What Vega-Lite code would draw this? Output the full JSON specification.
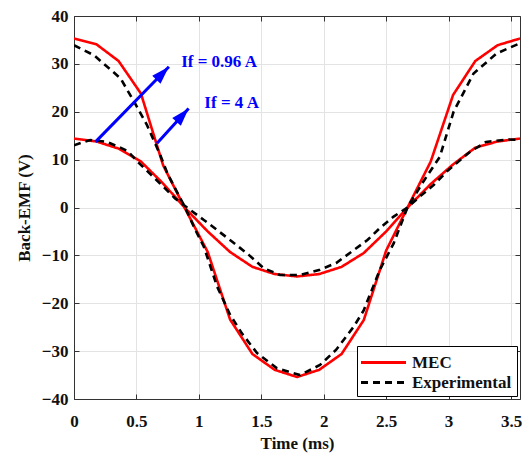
{
  "$schema": "https://vega.github.io/schema/vega-lite/v6.json",
  "width": 446,
  "height": 383,
  "autosize": {"type": "none"},
  "padding": {"left": 74, "top": 16, "right": 10, "bottom": 58},
  "background": "white",
  "config": {
    "font": "Liberation Serif",
    "view": {"stroke": null},
    "axis": {
      "labelFont": "Liberation Serif",
      "labelFontWeight": "bold",
      "labelFontSize": 17,
      "labelColor": "#111",
      "titleFont": "Liberation Serif",
      "titleFontWeight": "bold",
      "titleFontSize": 17,
      "titleColor": "#111",
      "gridColor": "#e3e3e3",
      "gridWidth": 1,
      "domainColor": "#333",
      "domainWidth": 1,
      "tickColor": "#333",
      "tickSize": -5
    },
    "legend": {
      "labelFont": "Liberation Serif",
      "labelFontWeight": "bold",
      "labelFontSize": 17,
      "labelColor": "#111"
    }
  },
  "datasets": {
    "curves": [
      {"t": 0, "v": 35.3, "curve": "MEC_096", "type": "MEC"},
      {"t": 0.179, "v": 34.1, "curve": "MEC_096", "type": "MEC"},
      {"t": 0.357, "v": 30.6, "curve": "MEC_096", "type": "MEC"},
      {"t": 0.536, "v": 23.8, "curve": "MEC_096", "type": "MEC"},
      {"t": 0.714, "v": 8.8, "curve": "MEC_096", "type": "MEC"},
      {"t": 0.893, "v": -0.4, "curve": "MEC_096", "type": "MEC"},
      {"t": 1.071, "v": -9.3, "curve": "MEC_096", "type": "MEC"},
      {"t": 1.25, "v": -23.4, "curve": "MEC_096", "type": "MEC"},
      {"t": 1.429, "v": -30.6, "curve": "MEC_096", "type": "MEC"},
      {"t": 1.607, "v": -33.9, "curve": "MEC_096", "type": "MEC"},
      {"t": 1.786, "v": -35.4, "curve": "MEC_096", "type": "MEC"},
      {"t": 1.964, "v": -33.9, "curve": "MEC_096", "type": "MEC"},
      {"t": 2.143, "v": -30.6, "curve": "MEC_096", "type": "MEC"},
      {"t": 2.321, "v": -23.5, "curve": "MEC_096", "type": "MEC"},
      {"t": 2.5, "v": -9.0, "curve": "MEC_096", "type": "MEC"},
      {"t": 2.679, "v": 0.4, "curve": "MEC_096", "type": "MEC"},
      {"t": 2.857, "v": 9.6, "curve": "MEC_096", "type": "MEC"},
      {"t": 3.036, "v": 23.5, "curve": "MEC_096", "type": "MEC"},
      {"t": 3.214, "v": 30.6, "curve": "MEC_096", "type": "MEC"},
      {"t": 3.393, "v": 33.9, "curve": "MEC_096", "type": "MEC"},
      {"t": 3.572, "v": 35.3, "curve": "MEC_096", "type": "MEC"},

      {"t": 0, "v": 14.4, "curve": "MEC_4", "type": "MEC"},
      {"t": 0.179, "v": 13.8, "curve": "MEC_4", "type": "MEC"},
      {"t": 0.357, "v": 12.3, "curve": "MEC_4", "type": "MEC"},
      {"t": 0.536, "v": 9.6, "curve": "MEC_4", "type": "MEC"},
      {"t": 0.714, "v": 5.0, "curve": "MEC_4", "type": "MEC"},
      {"t": 0.893, "v": -0.2, "curve": "MEC_4", "type": "MEC"},
      {"t": 1.071, "v": -5.0, "curve": "MEC_4", "type": "MEC"},
      {"t": 1.25, "v": -9.3, "curve": "MEC_4", "type": "MEC"},
      {"t": 1.429, "v": -12.4, "curve": "MEC_4", "type": "MEC"},
      {"t": 1.607, "v": -13.9, "curve": "MEC_4", "type": "MEC"},
      {"t": 1.786, "v": -14.4, "curve": "MEC_4", "type": "MEC"},
      {"t": 1.964, "v": -13.9, "curve": "MEC_4", "type": "MEC"},
      {"t": 2.143, "v": -12.4, "curve": "MEC_4", "type": "MEC"},
      {"t": 2.321, "v": -9.5, "curve": "MEC_4", "type": "MEC"},
      {"t": 2.5, "v": -5.0, "curve": "MEC_4", "type": "MEC"},
      {"t": 2.679, "v": 0.2, "curve": "MEC_4", "type": "MEC"},
      {"t": 2.857, "v": 4.9, "curve": "MEC_4", "type": "MEC"},
      {"t": 3.036, "v": 9.0, "curve": "MEC_4", "type": "MEC"},
      {"t": 3.214, "v": 12.5, "curve": "MEC_4", "type": "MEC"},
      {"t": 3.393, "v": 13.8, "curve": "MEC_4", "type": "MEC"},
      {"t": 3.572, "v": 14.4, "curve": "MEC_4", "type": "MEC"},

      {"t": 0, "v": 33.9, "curve": "EXP_096", "type": "Experimental"},
      {"t": 0.16, "v": 31.8, "curve": "EXP_096", "type": "Experimental"},
      {"t": 0.372, "v": 27.0, "curve": "EXP_096", "type": "Experimental"},
      {"t": 0.49, "v": 21.7, "curve": "EXP_096", "type": "Experimental"},
      {"t": 0.585, "v": 17.2, "curve": "EXP_096", "type": "Experimental"},
      {"t": 0.69, "v": 11.0, "curve": "EXP_096", "type": "Experimental"},
      {"t": 0.75, "v": 7.0, "curve": "EXP_096", "type": "Experimental"},
      {"t": 0.89, "v": 0, "curve": "EXP_096", "type": "Experimental"},
      {"t": 0.972, "v": -4.7, "curve": "EXP_096", "type": "Experimental"},
      {"t": 1.04, "v": -8.2, "curve": "EXP_096", "type": "Experimental"},
      {"t": 1.146, "v": -16.5, "curve": "EXP_096", "type": "Experimental"},
      {"t": 1.25, "v": -22.4, "curve": "EXP_096", "type": "Experimental"},
      {"t": 1.345, "v": -26.3, "curve": "EXP_096", "type": "Experimental"},
      {"t": 1.466, "v": -30.4, "curve": "EXP_096", "type": "Experimental"},
      {"t": 1.626, "v": -33.6, "curve": "EXP_096", "type": "Experimental"},
      {"t": 1.81, "v": -35.0, "curve": "EXP_096", "type": "Experimental"},
      {"t": 1.97, "v": -32.9, "curve": "EXP_096", "type": "Experimental"},
      {"t": 2.1, "v": -29.7, "curve": "EXP_096", "type": "Experimental"},
      {"t": 2.24, "v": -24.9, "curve": "EXP_096", "type": "Experimental"},
      {"t": 2.32, "v": -21.5, "curve": "EXP_096", "type": "Experimental"},
      {"t": 2.45, "v": -13.0, "curve": "EXP_096", "type": "Experimental"},
      {"t": 2.56, "v": -7.5, "curve": "EXP_096", "type": "Experimental"},
      {"t": 2.67, "v": 0, "curve": "EXP_096", "type": "Experimental"},
      {"t": 2.8, "v": 5.5, "curve": "EXP_096", "type": "Experimental"},
      {"t": 2.93, "v": 10.6, "curve": "EXP_096", "type": "Experimental"},
      {"t": 3.04, "v": 20.0, "curve": "EXP_096", "type": "Experimental"},
      {"t": 3.2, "v": 28.0, "curve": "EXP_096", "type": "Experimental"},
      {"t": 3.386, "v": 32.2, "curve": "EXP_096", "type": "Experimental"},
      {"t": 3.572, "v": 34.3, "curve": "EXP_096", "type": "Experimental"},

      {"t": 0, "v": 13.0, "curve": "EXP_4", "type": "Experimental"},
      {"t": 0.13, "v": 14.1, "curve": "EXP_4", "type": "Experimental"},
      {"t": 0.265, "v": 13.7, "curve": "EXP_4", "type": "Experimental"},
      {"t": 0.43, "v": 11.8, "curve": "EXP_4", "type": "Experimental"},
      {"t": 0.5, "v": 9.8, "curve": "EXP_4", "type": "Experimental"},
      {"t": 0.69, "v": 5.0, "curve": "EXP_4", "type": "Experimental"},
      {"t": 0.81, "v": 1.9, "curve": "EXP_4", "type": "Experimental"},
      {"t": 0.93, "v": -0.5, "curve": "EXP_4", "type": "Experimental"},
      {"t": 1.04, "v": -2.6, "curve": "EXP_4", "type": "Experimental"},
      {"t": 1.146, "v": -4.7, "curve": "EXP_4", "type": "Experimental"},
      {"t": 1.265, "v": -7.1, "curve": "EXP_4", "type": "Experimental"},
      {"t": 1.4, "v": -9.9, "curve": "EXP_4", "type": "Experimental"},
      {"t": 1.52, "v": -12.7, "curve": "EXP_4", "type": "Experimental"},
      {"t": 1.65, "v": -14.1, "curve": "EXP_4", "type": "Experimental"},
      {"t": 1.81, "v": -14.1, "curve": "EXP_4", "type": "Experimental"},
      {"t": 1.97, "v": -13.0, "curve": "EXP_4", "type": "Experimental"},
      {"t": 2.1, "v": -11.6, "curve": "EXP_4", "type": "Experimental"},
      {"t": 2.24, "v": -8.9, "curve": "EXP_4", "type": "Experimental"},
      {"t": 2.35, "v": -6.8, "curve": "EXP_4", "type": "Experimental"},
      {"t": 2.45, "v": -4.3, "curve": "EXP_4", "type": "Experimental"},
      {"t": 2.56, "v": -1.9, "curve": "EXP_4", "type": "Experimental"},
      {"t": 2.67, "v": 0, "curve": "EXP_4", "type": "Experimental"},
      {"t": 2.77, "v": 2.3, "curve": "EXP_4", "type": "Experimental"},
      {"t": 2.88, "v": 4.7, "curve": "EXP_4", "type": "Experimental"},
      {"t": 2.985, "v": 7.5, "curve": "EXP_4", "type": "Experimental"},
      {"t": 3.17, "v": 11.6, "curve": "EXP_4", "type": "Experimental"},
      {"t": 3.3, "v": 13.7, "curve": "EXP_4", "type": "Experimental"},
      {"t": 3.48, "v": 14.2, "curve": "EXP_4", "type": "Experimental"},
      {"t": 3.572, "v": 14.1, "curve": "EXP_4", "type": "Experimental"}
    ],
    "arrows": [
      {"t": 0.172, "v": 13.7, "arrow": "a1"},
      {"t": 0.76, "v": 29.4, "arrow": "a1"},
      {"t": 0.665, "v": 13.4, "arrow": "a2"},
      {"t": 0.918, "v": 20.7, "arrow": "a2"}
    ],
    "labels": [
      {"t": 0.858, "v": 30.4, "label": "If = 0.96 A"},
      {"t": 1.044, "v": 21.75, "label": "If = 4 A"}
    ]
  },
  "layer": [
    {
      "data": {"name": "curves"},
      "transform": [{"filter": "datum.type === 'MEC'"}],
      "mark": {"type": "line", "strokeWidth": 2.6, "clip": true},
      "encoding": {
        "x": {"field": "t", "type": "quantitative", "title": "Time (ms)",
          "scale": {"domain": [0, 3.572], "nice": false, "zero": false},
          "axis": {"orient": "bottom", "values": [0, 0.5, 1, 1.5, 2, 2.5, 3, 3.5], "format": "~g", "labelPadding": 19, "titlePadding": 6, "labelFlush": false,
            "labelFont": "Liberation Serif", "labelFontWeight": "bold", "labelFontSize": 17, "titleFont": "Liberation Serif", "titleFontWeight": "bold", "titleFontSize": 17}},
        "y": {"field": "v", "type": "quantitative", "title": "Back-EMF (V)",
          "scale": {"domain": [-40, 40], "nice": false},
          "axis": {"orient": "left", "values": [-40, -30, -20, -10, 0, 10, 20, 30, 40], "labelPadding": 11, "titlePadding": 8,
            "labelFont": "Liberation Serif", "labelFontWeight": "bold", "labelFontSize": 17, "titleFont": "Liberation Serif", "titleFontWeight": "bold", "titleFontSize": 17}},
        "detail": {"field": "curve"},
        "color": {"field": "type", "type": "nominal", "title": null,
          "scale": {"domain": ["MEC", "Experimental"], "range": ["#ff0000", "#000000"]},
          "legend": {"orient": "bottom-right", "offset": 3, "fillColor": "white", "strokeColor": "#000", "padding": 5,
            "symbolType": "M-1.25,0L3.25,0", "symbolSize": 400, "symbolStrokeWidth": 3, "rowPadding": -1, "labelOffset": 27,
            "labelFont": "Liberation Serif", "labelFontWeight": "bold", "labelFontSize": 17, "labelColor": "#111"}},
        "strokeDash": {"field": "type", "type": "nominal", "title": null,
          "scale": {"domain": ["MEC", "Experimental"], "range": [[1, 0], [7, 5]]}}
      }
    },
    {
      "data": {"name": "curves"},
      "transform": [{"filter": "datum.type === 'Experimental'"}],
      "mark": {"type": "line", "strokeWidth": 2.6, "clip": true},
      "encoding": {
        "x": {"field": "t", "type": "quantitative", "axis": null},
        "y": {"field": "v", "type": "quantitative", "axis": null},
        "detail": {"field": "curve"},
        "color": {"field": "type", "type": "nominal"},
        "strokeDash": {"field": "type", "type": "nominal"}
      }
    },
    {
      "data": {"name": "arrows"},
      "mark": {"type": "line", "color": "#0000ff", "strokeWidth": 3},
      "encoding": {
        "x": {"field": "t", "type": "quantitative", "axis": {"orient": "top", "values": [0, 0.5, 1, 1.5, 2, 2.5, 3, 3.5], "labels": false, "title": null, "grid": false}},
        "y": {"field": "v", "type": "quantitative", "axis": {"orient": "right", "values": [-40, -30, -20, -10, 0, 10, 20, 30, 40], "labels": false, "title": null, "grid": false}},
        "detail": {"field": "arrow"}
      }
    },
    {
      "data": {"name": "arrows"},
      "transform": [{"filter": "datum.arrow === 'a1' && datum.v > 20"}],
      "mark": {"type": "point", "shape": "M0,0L-0.32,1L0.32,1Z", "filled": true, "color": "#0000ff", "opacity": 1, "size": 1300, "angle": 44},
      "encoding": {
        "x": {"field": "t", "type": "quantitative", "axis": null},
        "y": {"field": "v", "type": "quantitative", "axis": null}
      }
    },
    {
      "data": {"name": "arrows"},
      "transform": [{"filter": "datum.arrow === 'a2' && datum.v > 15"}],
      "mark": {"type": "point", "shape": "M0,0L-0.32,1L0.32,1Z", "filled": true, "color": "#0000ff", "opacity": 1, "size": 1300, "angle": 42},
      "encoding": {
        "x": {"field": "t", "type": "quantitative", "axis": null},
        "y": {"field": "v", "type": "quantitative", "axis": null}
      }
    },
    {
      "data": {"name": "labels"},
      "mark": {"type": "text", "align": "left", "baseline": "middle", "font": "Liberation Serif", "fontWeight": "bold", "fontSize": 17, "color": "#0000ff"},
      "encoding": {
        "x": {"field": "t", "type": "quantitative", "axis": null},
        "y": {"field": "v", "type": "quantitative", "axis": null},
        "text": {"field": "label"}
      }
    }
  ],
  "resolve": {"axis": {"x": "independent", "y": "independent"}}
}
